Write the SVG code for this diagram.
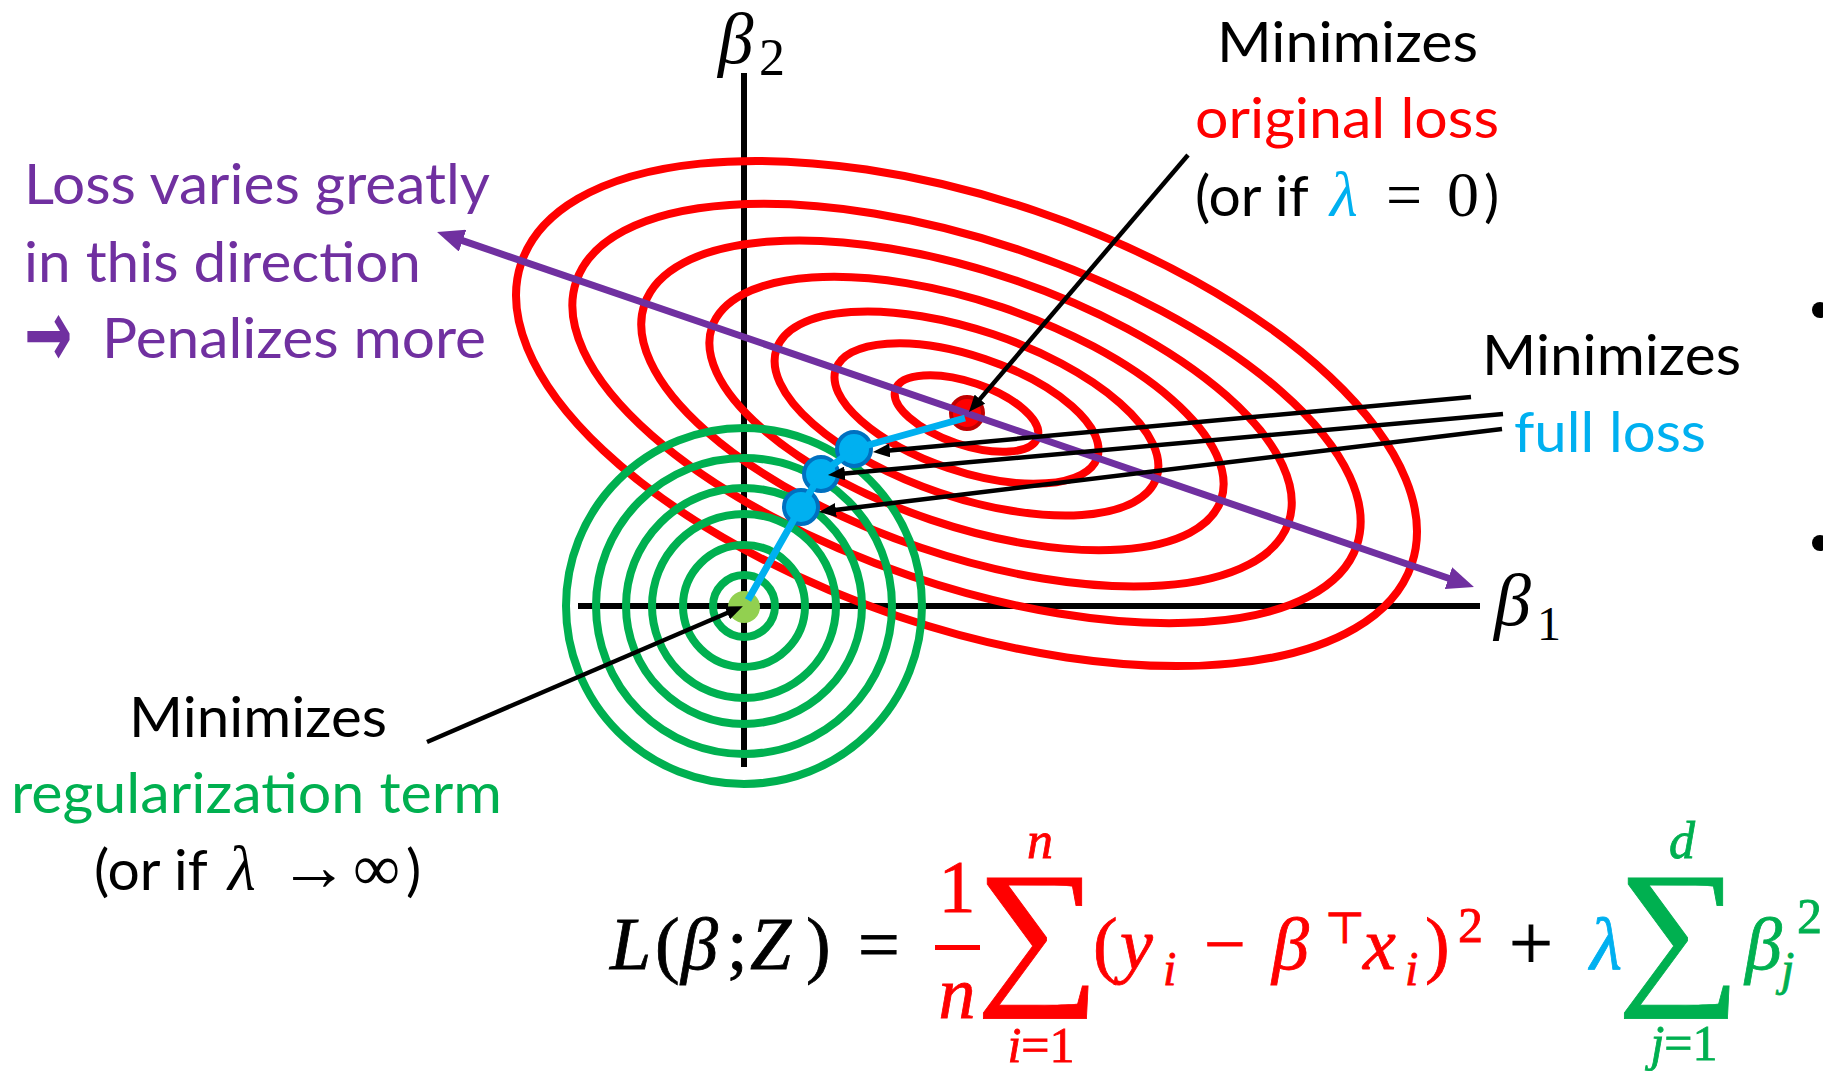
<svg xmlns="http://www.w3.org/2000/svg" width="1823" height="1071" viewBox="0 0 1823 1071">
<style>
.t{font-family:Lato,"Open Sans","Liberation Sans",sans-serif;font-size:57px}
.m{font-family:"Liberation Serif","DejaVu Serif",serif}
.i{font-style:italic}
.red{fill:#FF0000}.grn{fill:#00B050}.blu{fill:#00B0F0}.pur{fill:#7030A0}
.ax{stroke:#000;stroke-width:6;fill:none}
.rc{fill:none;stroke:#FF0000;stroke-width:8}
.gc{fill:none;stroke:#00B050;stroke-width:8}
.conn{stroke:#000;stroke-width:4.5;fill:none;marker-end:url(#ah)}
.bd{fill:#00B0F0;stroke:#0070C0;stroke-width:4}
.fx text{stroke-width:0.8}
</style>
<defs>
<marker id="ah" markerUnits="userSpaceOnUse" markerWidth="17" markerHeight="14" refX="3" refY="7" orient="auto" viewBox="0 0 17 14"><path d="M0,0 L17,7 L0,14 z" fill="#000"/></marker>
<marker id="ap" markerUnits="userSpaceOnUse" markerWidth="27" markerHeight="23" refX="4" refY="11.5" orient="auto-start-reverse" viewBox="0 0 27 23"><path d="M0,0 L27,11.5 L0,23 z" fill="#7030A0"/></marker>
</defs>
<rect width="1823" height="1071" fill="#fff"/>

<g id="axes">
<line class="ax" x1="744" y1="73" x2="744" y2="767"/>
<line class="ax" x1="578" y1="606" x2="1480" y2="606"/>
<text class="m i" x="718" y="63" font-size="71">β</text><text class="m" x="759" y="75" font-size="52">2</text>
<text class="m i" x="1494" y="625" font-size="74">β</text><text class="m" x="1537" y="640" font-size="48">1</text>
</g>

<g id="loss-contours" transform="rotate(18.7 966.5 413.5)">
<ellipse class="rc" cx="966.5" cy="413.5" rx="75" ry="31.4"/>
<ellipse class="rc" cx="966.5" cy="413.5" rx="138" ry="57.6"/>
<ellipse class="rc" cx="966.5" cy="413.5" rx="200.6" ry="83.6"/>
<ellipse class="rc" cx="966.5" cy="413.5" rx="268.8" ry="112"/>
<ellipse class="rc" cx="966.5" cy="413.5" rx="340" ry="141.8"/>
<ellipse class="rc" cx="966.5" cy="413.5" rx="412" ry="171.9"/>
<ellipse class="rc" cx="966.5" cy="413.5" rx="470" ry="214"/>
</g>

<g id="reg-contours">
<circle class="gc" cx="744" cy="606" r="31"/>
<circle class="gc" cx="744" cy="606" r="61"/>
<circle class="gc" cx="744" cy="606" r="92"/>
<circle class="gc" cx="744" cy="606" r="118"/>
<circle class="gc" cx="744" cy="606" r="148"/>
<circle class="gc" cx="744" cy="606" r="178"/>
</g>

<g id="dot-original"><circle cx="967" cy="413" r="16" fill="#FF0000" stroke="#C00000" stroke-width="4"/></g>
<g id="dot-reg"><circle cx="744" cy="607" r="16" fill="#92D050"/></g>
<g id="dot-full-1"><circle class="bd" cx="854" cy="449" r="17"/></g>
<g id="dot-full-2"><circle class="bd" cx="821" cy="474" r="17"/></g>
<g id="dot-full-3"><circle class="bd" cx="801" cy="507" r="17"/></g>

<g id="connectors">
<path d="M458.8,239.4 L1452.2,579.5" stroke="#7030A0" stroke-width="7" fill="none" marker-start="url(#ap)" marker-end="url(#ap)"/>
<polyline points="965,418 854,449 821,474 801,507 748,600" fill="none" stroke="#00B0F0" stroke-width="7" stroke-linejoin="round"/>
<path class="conn" d="M1188,155 L978,401.4"/>
<path class="conn" d="M1471,397 L886.9,450.7"/>
<path class="conn" d="M1503,414 L841.9,473.7"/>
<path class="conn" d="M1502,429 L832.9,510.3"/>
<path class="conn" d="M427,742 L730,611.7"/>
</g>

<g id="label-direction" class="t pur">
<text x="24" y="204" textLength="466" lengthAdjust="spacingAndGlyphs">Loss varies greatly</text>
<text x="24" y="282" textLength="397" lengthAdjust="spacingAndGlyphs">in this direction</text>
<text y="358"><tspan x="102" textLength="384" lengthAdjust="spacingAndGlyphs">Penalizes more</tspan></text>
<text transform="translate(24,367) scale(0.6,1)" font-family="'DejaVu Sans',sans-serif" font-weight="bold" font-size="96">→</text>
</g>

<g id="label-original" class="t">
<text x="1217" y="62" textLength="261" lengthAdjust="spacingAndGlyphs">Minimizes</text>
<text class="red" x="1195" y="138" textLength="304" lengthAdjust="spacingAndGlyphs">original loss</text>
<text y="216"><tspan x="1195">(or if</tspan><tspan x="1330" class="m i blu" font-size="64">λ</tspan><tspan x="1386" class="m" font-size="64">=</tspan><tspan x="1447" class="m" font-size="64">0</tspan><tspan x="1484">)</tspan></text>
</g>

<g id="label-full" class="t">
<text x="1482" y="375" textLength="259" lengthAdjust="spacingAndGlyphs">Minimizes</text>
<text class="blu" x="1514" y="452" textLength="192" lengthAdjust="spacingAndGlyphs">full loss</text>
</g>

<g id="label-reg" class="t">
<text x="129" y="737" textLength="258" lengthAdjust="spacingAndGlyphs">Minimizes</text>
<text class="grn" x="11" y="813" textLength="491" lengthAdjust="spacingAndGlyphs">regularization term</text>
<text y="890"><tspan x="94">(or if</tspan><tspan x="228" class="m i" font-size="64">λ</tspan><tspan x="279" class="m" font-size="70">→</tspan><tspan x="353" class="m" font-size="66">∞</tspan><tspan x="406">)</tspan></text>
</g>

<g id="formula" class="m fx">
<text y="969" font-size="74" stroke="#000">
<tspan x="610" class="i">L</tspan><tspan x="655">(</tspan><tspan x="681" class="i">β</tspan><tspan x="727">;</tspan><tspan x="750" class="i">Z</tspan><tspan x="806">)</tspan><tspan x="858">=</tspan>
</text>
<text class="red" stroke="#FF0000" x="957" y="912" font-size="74" text-anchor="middle">1</text>
<rect x="935" y="945" width="45" height="5" fill="#FF0000"/>
<text class="red i" stroke="#FF0000" x="957" y="1018" font-size="74" text-anchor="middle">n</text>
<text class="red" stroke="#FF0000" transform="translate(1038,984) scale(1.08,1)" font-size="162" text-anchor="middle">∑</text>
<text class="red i" stroke="#FF0000" x="1040" y="858" font-size="52" text-anchor="middle">n</text>
<text class="red" stroke="#FF0000" x="1041" y="1062" font-size="50" text-anchor="middle"><tspan class="i">i</tspan>=1</text>
<text class="red" stroke="#FF0000" y="969" font-size="74">
<tspan x="1093">(</tspan><tspan x="1120" class="i">y</tspan><tspan x="1163" y="985" font-size="48" class="i">i</tspan><tspan x="1204" y="969">−</tspan><tspan x="1272" class="i">β</tspan><tspan x="1324" y="943" font-size="44">⊤</tspan><tspan x="1363" y="969" class="i">x</tspan><tspan x="1405" y="985" font-size="48" class="i">i</tspan><tspan x="1425" y="969">)</tspan><tspan x="1458" y="942" font-size="50">2</tspan>
</text>
<text stroke="#000" x="1509" y="969" font-size="78">+</text>
<text class="blu i" stroke="#00B0F0" x="1590" y="969" font-size="74">λ</text>
<text class="grn" stroke="#00B050" transform="translate(1679,984) scale(1.08,1)" font-size="162" text-anchor="middle">∑</text>
<text class="grn i" stroke="#00B050" x="1682" y="858" font-size="52" text-anchor="middle">d</text>
<text class="grn" stroke="#00B050" x="1684" y="1060" font-size="50" text-anchor="middle"><tspan class="i">j</tspan>=1</text>
<text class="grn" stroke="#00B050" y="969" font-size="74"><tspan x="1745" class="i">β</tspan><tspan x="1781" y="985" font-size="48" class="i">j</tspan><tspan x="1797" y="933" font-size="50">2</tspan></text>
</g>

<g id="bullets">
<circle cx="1820" cy="310" r="8" fill="#000"/>
<circle cx="1820" cy="543" r="8" fill="#000"/>
</g>
</svg>
